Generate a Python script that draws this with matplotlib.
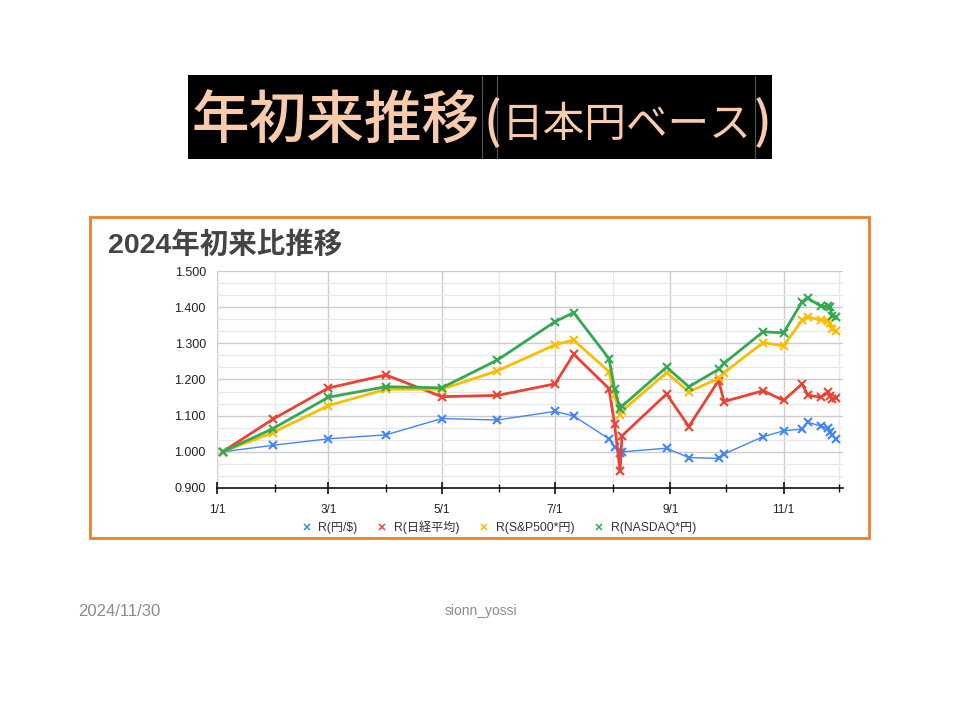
import matplotlib
matplotlib.use("Agg")
import matplotlib.pyplot as plt
import matplotlib.dates as mdates
from matplotlib.ticker import MultipleLocator, FuncFormatter
from matplotlib.patches import Rectangle
import datetime as dt

plt.rcParams['font.family'] = ['Liberation Sans', 'Noto Sans CJK JP', 'DejaVu Sans']

dates = ['2024-01-04', '2024-01-31', '2024-03-01', '2024-04-01', '2024-05-01',
         '2024-05-31', '2024-07-01', '2024-07-11', '2024-07-30', '2024-08-02',
         '2024-08-05', '2024-08-06', '2024-08-30', '2024-09-11', '2024-09-27',
         '2024-09-30', '2024-10-21', '2024-11-01', '2024-11-11', '2024-11-14',
         '2024-11-21', '2024-11-25', '2024-11-26', '2024-11-27', '2024-11-29']
r_usd = [1.000, 1.018, 1.036, 1.047, 1.092, 1.088, 1.112, 1.099, 1.036, 1.014,
         0.998, 1.000, 1.010, 0.984, 0.982, 0.994, 1.042, 1.058, 1.063, 1.082,
         1.071, 1.065, 1.056, 1.046, 1.036]
r_nikkei = [1.000, 1.090, 1.1765, 1.2125, 1.1525, 1.156, 1.188, 1.270, 1.175, 1.078,
            0.946, 1.044, 1.160, 1.070, 1.197, 1.139, 1.169, 1.142, 1.188, 1.157,
            1.151, 1.165, 1.154, 1.147, 1.148]
r_sp500 = [1.000, 1.053, 1.128, 1.173, 1.173, 1.224, 1.296, 1.309, 1.222, 1.156,
           1.103, 1.113, 1.219, 1.166, 1.203, 1.219, 1.302, 1.293, 1.364, 1.373,
           1.364, 1.361, 1.355, 1.340, 1.333]
r_nasdaq = [1.000, 1.064, 1.151, 1.180, 1.177, 1.254, 1.360, 1.385, 1.258, 1.175,
            1.118, 1.126, 1.234, 1.180, 1.228, 1.245, 1.332, 1.329, 1.415, 1.425,
            1.403, 1.402, 1.400, 1.375, 1.372]
series_names = ['R(円/$)', 'R(日経平均)', 'R(S&P500*円)', 'R(NASDAQ*円)']
series_colors = ['#4285F4', '#EA4335', '#FBBC04', '#34A853']

x = [dt.datetime.strptime(d, '%Y-%m-%d') for d in dates]

fig = plt.figure(figsize=(9.6, 7.2), dpi=100)
W, H = 960, 720

def fx(px):
    return px / W

def fy(py):
    return 1 - py / H

# Title black box
fig.patches.append(Rectangle((fx(188), fy(159)), fx(772) - fx(188), fy(75) - fy(159),
                             transform=fig.transFigure, facecolor='black',
                             edgecolor='none', zorder=-2))
for lx in [482, 497, 755]:
    fig.lines.append(plt.Line2D([fx(lx), fx(lx)], [fy(76), fy(158)], transform=fig.transFigure,
                                color='#555555', lw=0.8, zorder=-1))
peach = '#F8CBAD'
fig.text(fx(191), fy(122), '年初来推移', fontsize=41.5, color=peach,
         family=['Noto Sans CJK JP'], va='center', ha='left', fontweight='medium')
fig.text(fx(484), fy(124), '(', fontsize=36, color=peach,
         family=['Noto Sans CJK JP'], va='center', ha='left', fontweight='medium')
fig.text(fx(502), fy(126), '日本円ベース', fontsize=30, color=peach,
         family=['Noto Sans CJK JP'], va='center', ha='left')
fig.text(fx(754), fy(124), ')', fontsize=36, color=peach,
         family=['Noto Sans CJK JP'], va='center', ha='left', fontweight='medium')

# Chart frame (orange)
fig.patches.append(Rectangle((fx(90), fy(538)), fx(869) - fx(90), fy(217) - fy(538),
                             transform=fig.transFigure, facecolor='white',
                             edgecolor='#ED7D31', lw=2, zorder=-2))
fig.text(fx(108), fy(245), '2024年初来比推移', fontsize=20.5, color='#444444',
         fontweight='bold', va='center', ha='left',
         family=['Liberation Sans', 'Noto Sans CJK JP'])

ax = fig.add_axes([fx(217), fy(488), fx(843) - fx(217), fy(271) - fy(488)])
ax.set_facecolor('none')
ax.set_zorder(2)

widths = [1.0, 2.0, 2.0, 2.0]
for vals, name, col, lw in zip([r_usd, r_nikkei, r_sp500, r_nasdaq], series_names,
                               series_colors, widths):
    ax.plot(x, vals, color=col, lw=lw, marker='x', markersize=6, markeredgewidth=1.5,
            label=name, zorder=3)

ax.set_ylim(0.9, 1.5)
ax.set_xlim(dt.datetime(2024, 1, 1), dt.datetime(2024, 12, 3))
ax.yaxis.set_major_locator(MultipleLocator(0.1))
ax.yaxis.set_minor_locator(MultipleLocator(0.1 / 3))
ax.yaxis.set_major_formatter(FuncFormatter(lambda v, p: f'{v:.3f}'))
ax.xaxis.set_major_locator(mdates.MonthLocator(bymonth=[1, 3, 5, 7, 9, 11]))
ax.xaxis.set_minor_locator(mdates.MonthLocator())
ax.xaxis.set_major_formatter(FuncFormatter(
    lambda v, p: f'{mdates.num2date(v).month}/{mdates.num2date(v).day}'))

ax.grid(which='major', color='#cccccc', lw=1.0, zorder=0)
ax.grid(which='minor', color='#e8e8e8', lw=0.9, zorder=0)
ax.set_axisbelow(True)
for s in ['top', 'right', 'left']:
    ax.spines[s].set_visible(False)
ax.spines['bottom'].set_color('#111111')
ax.spines['bottom'].set_linewidth(1.2)
ax.tick_params(axis='y', which='both', length=0, labelsize=9, pad=8, labelcolor='#222222')
ax.tick_params(axis='x', which='major', direction='inout', length=9, width=1.2,
               labelsize=8.5, pad=7, labelcolor='#222222', color='#111111')
ax.tick_params(axis='x', which='minor', direction='inout', length=6, width=1.0, color='#111111')

leg = ax.legend(loc='upper center', bbox_to_anchor=(0.45, -0.10), ncol=4, frameon=False,
                handlelength=0.9, handletextpad=0.5, columnspacing=1.6,
                prop={'family': ['Liberation Sans', 'Noto Sans CJK JP'], 'size': 8.7})
for h in leg.legend_handles:
    h.set_linestyle('none')
    h.set_markersize(5)
    h.set_markeredgewidth(1.1)
for t in leg.get_texts():
    t.set_color('#333333')

# Footer
fig.text(fx(78), fy(611), '2024/11/30', fontsize=12, color='#8c8c8c', va='center', ha='left',
         family=['Liberation Sans'])
fig.text(fx(481), fy(611), 'sionn_yossi', fontsize=10, color='#8c8c8c', va='center',
         ha='center', family=['Liberation Sans'])

fig.savefig('out.png', dpi=100)
